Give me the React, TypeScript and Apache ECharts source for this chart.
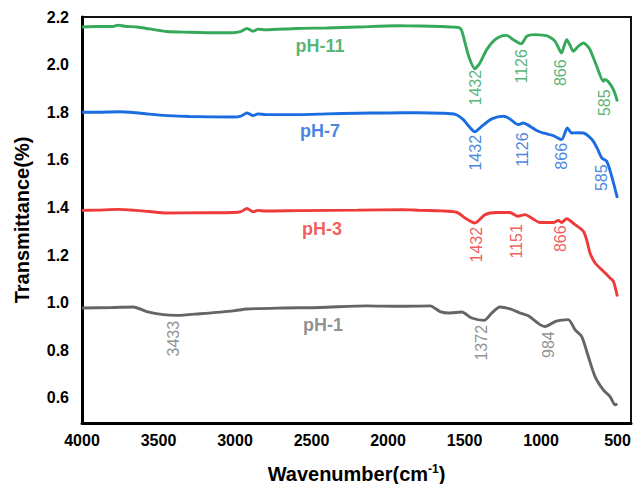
import { useEffect, useRef } from "react";
import * as echarts from "echarts";

// Axis ticks
const xTicks = [4000, 3500, 3000, 2500, 2000, 1500, 1000, 500];
const yTicks = [0.6, 0.8, 1.0, 1.2, 1.4, 1.6, 1.8, 2.0, 2.2];

// pH-11 spectrum (wavenumber in cm-1, transmittance)
const ph11Wave = [4000, 3900, 3800, 3765, 3720, 3640, 3560, 3444, 3300, 3150, 3013, 2960, 2922, 2882, 2850, 2800, 2600, 2400, 2200, 1941, 1791, 1650, 1560, 1540, 1520, 1500, 1470, 1432, 1420, 1399, 1355, 1301, 1250, 1224, 1183, 1130, 1093, 1039, 990, 954, 908, 866, 850, 832, 810, 789, 760, 723, 700, 680, 636, 593, 585, 560, 527, 501];
const ph11Trans = [2.158, 2.16, 2.16, 2.166, 2.161, 2.158, 2.15, 2.139, 2.136, 2.134, 2.134, 2.14, 2.152, 2.14, 2.149, 2.146, 2.152, 2.154, 2.158, 2.163, 2.162, 2.16, 2.157, 2.156, 2.145, 2.1, 2.03, 1.982, 1.99, 2.007, 2.063, 2.105, 2.122, 2.123, 2.105, 2.087, 2.119, 2.126, 2.124, 2.119, 2.098, 2.049, 2.077, 2.105, 2.08, 2.056, 2.075, 2.091, 2.08, 2.063, 1.993, 1.93, 1.938, 1.928, 1.895, 1.846];

// pH-7 spectrum
const ph7Wave = [4000, 3900, 3765, 3650, 3560, 3444, 3300, 3013, 2960, 2922, 2882, 2850, 2800, 2575, 2400, 2200, 2000, 1800, 1650, 1560, 1508, 1470, 1432, 1388, 1322, 1246, 1203, 1150, 1115, 1090, 1018, 980, 920, 866, 828, 800, 760, 723, 690, 658, 630, 603, 571, 538, 501];
const ph7Trans = [1.8, 1.8, 1.802, 1.798, 1.792, 1.786, 1.782, 1.78, 1.784, 1.797, 1.786, 1.793, 1.79, 1.79, 1.793, 1.796, 1.797, 1.798, 1.796, 1.791, 1.769, 1.74, 1.718, 1.741, 1.772, 1.783, 1.772, 1.748, 1.755, 1.748, 1.72, 1.712, 1.702, 1.685, 1.734, 1.713, 1.714, 1.713, 1.7, 1.678, 1.645, 1.608, 1.594, 1.531, 1.44];

// pH-3 spectrum
const ph3Wave = [4000, 3900, 3765, 3650, 3560, 3444, 3200, 3013, 2960, 2922, 2882, 2850, 2800, 2575, 2200, 1900, 1791, 1650, 1551, 1497, 1432, 1366, 1290, 1203, 1151, 1105, 1060, 1007, 920, 887, 866, 832, 778, 723, 700, 680, 647, 603, 549, 527, 501];
const ph3Trans = [1.388, 1.389, 1.392, 1.388, 1.383, 1.377, 1.378, 1.379, 1.383, 1.396, 1.382, 1.388, 1.385, 1.387, 1.389, 1.391, 1.388, 1.386, 1.38, 1.356, 1.335, 1.37, 1.379, 1.379, 1.363, 1.37, 1.355, 1.337, 1.337, 1.346, 1.337, 1.353, 1.328, 1.3, 1.26, 1.209, 1.167, 1.139, 1.104, 1.09, 1.026];

// pH-1 spectrum
const ph1Wave = [4000, 3800, 3665, 3577, 3469, 3381, 3229, 3011, 2923, 2684, 2444, 2139, 1922, 1725, 1660, 1595, 1518, 1453, 1372, 1322, 1268, 1203, 1137, 1083, 1007, 975, 908, 876, 822, 778, 734, 691, 647, 593, 549, 516, 502];
const ph1Trans = [0.978, 0.98, 0.982, 0.963, 0.95, 0.947, 0.954, 0.966, 0.974, 0.978, 0.98, 0.987, 0.985, 0.987, 0.963, 0.957, 0.961, 0.936, 0.926, 0.957, 0.982, 0.974, 0.957, 0.945, 0.908, 0.9, 0.921, 0.926, 0.929, 0.887, 0.858, 0.774, 0.69, 0.634, 0.606, 0.571, 0.576];

// Band assignments (label text) with the point where each label is centred
const ph11Peaks = [1432, 1126, 866, 585];
const ph11PeakX = [1431, 1126, 876, 582];
const ph11PeakY = [1.903, 1.993, 1.966, 1.84];

const ph7Peaks = [1432, 1126, 866, 585];
const ph7PeakX = [1431, 1118, 865, 603];
const ph7PeakY = [1.63, 1.643, 1.615, 1.525];

const ph3Peaks = [1432, 1151, 866];
const ph3PeakX = [1425, 1159, 876];
const ph3PeakY = [1.244, 1.258, 1.269];

const ph1Peaks = [3433, 1372, 984];
const ph1PeakX = [3403, 1388, 952];
const ph1PeakY = [0.849, 0.832, 0.824];

// Curve names and where they sit
const curveNames = ["pH-11", "pH-7", "pH-3", "pH-1"];
const nameX = [2444, 2444, 2431, 2425];
const nameY = [2.08, 1.723, 1.311, 0.908];

const FONT = "'Liberation Sans', Arial, Helvetica, sans-serif";

const curves = [
  { wave: ph11Wave, trans: ph11Trans, peaks: ph11Peaks, px: ph11PeakX, py: ph11PeakY, line: "#36a85a", text: "#2f9f52" },
  { wave: ph7Wave, trans: ph7Trans, peaks: ph7Peaks, px: ph7PeakX, py: ph7PeakY, line: "#1a6de0", text: "#1766d6" },
  { wave: ph3Wave, trans: ph3Trans, peaks: ph3Peaks, px: ph3PeakX, py: ph3PeakY, line: "#ef3a3a", text: "#ec3434" },
  { wave: ph1Wave, trans: ph1Trans, peaks: ph1Peaks, px: ph1PeakX, py: ph1PeakY, line: "#656565", text: "#747474" },
];

export default function App() {
  const ref = useRef<HTMLDivElement>(null);

  useEffect(() => {
    if (!ref.current) return;
    const chart = echarts.init(ref.current, null, { renderer: "svg" });

    const series: any[] = [];
    curves.forEach((c, k) => {
      series.push({
        type: "line",
        name: curveNames[k],
        data: c.wave.map((w, i) => [w, c.trans[i]]),
        symbol: "none",
        smooth: 0.25,
        lineStyle: { color: c.line, width: 2.9 },
        z: 3,
        silent: true,
      });
      series.push({
        type: "scatter",
        data: c.peaks.map((p, i) => ({ name: String(p), value: [c.px[i], c.py[i]] })),
        symbolSize: 0,
        silent: true,
        label: {
          show: true,
          position: "inside",
          rotate: 90,
          formatter: "{b}",
          color: c.text,
          fontSize: 16,
          fontFamily: FONT,
        },
        z: 4,
      });
      series.push({
        type: "scatter",
        data: [{ name: curveNames[k], value: [nameX[k], nameY[k]] }],
        symbolSize: 0,
        silent: true,
        label: {
          show: true,
          position: "inside",
          formatter: "{b}",
          color: c.text,
          fontSize: 18,
          fontWeight: "bold",
          fontFamily: FONT,
        },
        z: 4,
      });
    });

    chart.setOption({
      animation: false,
      backgroundColor: "#ffffff",
      grid: {
        left: 82,
        right: 2,
        top: 17,
        bottom: 61,
        show: true,
        borderColor: "#111",
        borderWidth: 2,
        containLabel: false,
        outerBoundsMode: "none",
      },
      xAxis: {
        type: "value",
        inverse: true,
        min: 412,
        max: 4000,
        name: "Wavenumber(cm{sup|-1})",
        nameLocation: "middle",
        nameGap: 40,
        nameTextStyle: {
          fontSize: 20,
          fontWeight: "bold",
          color: "#000",
          fontFamily: FONT,
          lineHeight: 22,
          rich: {
            sup: { fontSize: 12, fontWeight: "bold", color: "#000", fontFamily: FONT, verticalAlign: "top", lineHeight: 14 },
          },
        },
        axisLine: { show: true, onZero: false, lineStyle: { color: "#000", width: 3 } },
        axisTick: { show: false },
        splitLine: { show: false },
        axisLabel: {
          customValues: xTicks,
          formatter: (v: number) => String(v),
          color: "#000",
          fontSize: 16,
          fontWeight: "bold",
          fontFamily: FONT,
          margin: 9,
        },
      },
      yAxis: {
        type: "value",
        min: 0.495,
        max: 2.2,
        name: "Transmittance(%)",
        nameLocation: "middle",
        nameGap: 50,
        nameRotate: 90,
        nameTextStyle: { fontSize: 20, fontWeight: "bold", color: "#000", fontFamily: FONT },
        axisLine: { show: true, onZero: false, lineStyle: { color: "#000", width: 3 } },
        axisTick: { show: false },
        splitLine: { show: false },
        axisLabel: {
          customValues: yTicks,
          formatter: (v: number) => v.toFixed(1),
          color: "#000",
          fontSize: 16,
          fontWeight: "bold",
          fontFamily: FONT,
          margin: 13,
        },
      },
      series,
    });

    return () => chart.dispose();
  }, []);

  return (
    <div
      ref={ref}
      style={{ position: "fixed", left: 0, top: 0, width: 633, height: 484, background: "#fff" }}
    />
  );
}
